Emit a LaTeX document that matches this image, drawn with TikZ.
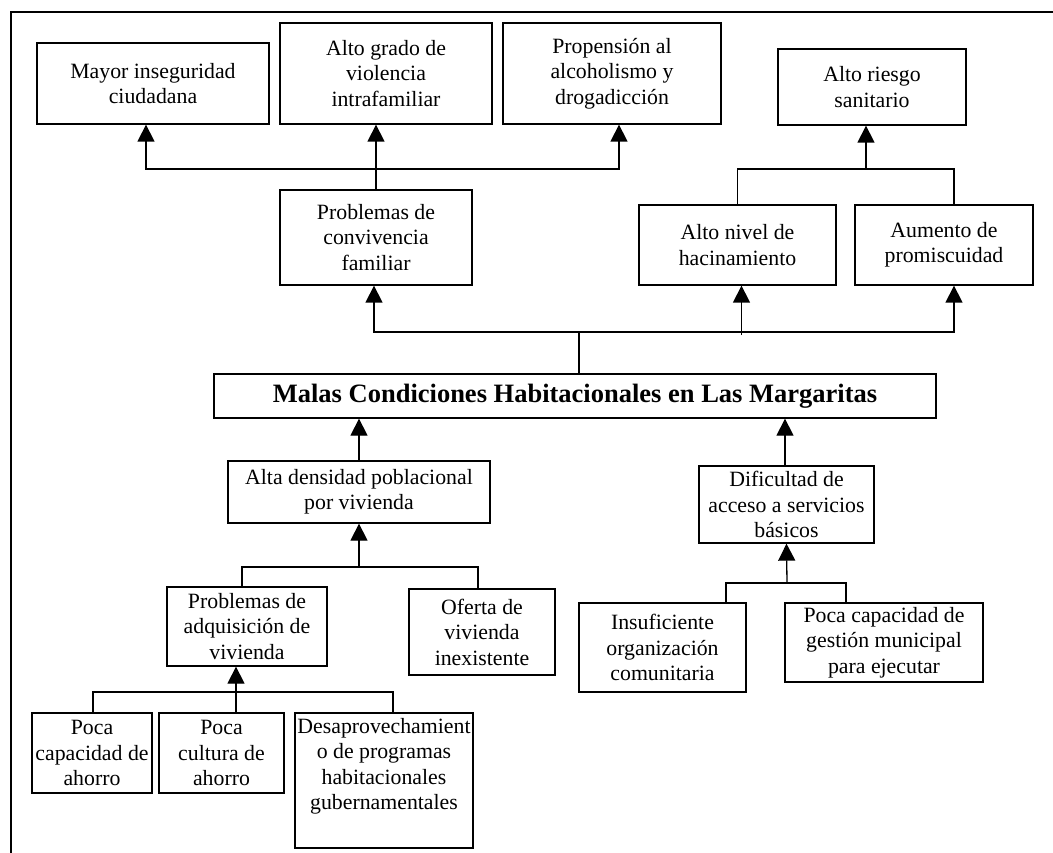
\documentclass[tikz,border=0pt]{standalone}
\usepackage{fontspec}
\setmainfont{Liberation Serif}
\usetikzlibrary{arrows.meta,calc}
\definecolor{ink}{HTML}{000000}
\tikzset{
  every node/.style={font=\fontsize{21.8}{25.5}\selectfont, text=ink},
  caja/.style={draw=ink, line width=1.3pt, fill=white, align=center, inner sep=0pt},
  titulo/.style={caja, font=\fontsize{26.5}{30}\selectfont\bfseries},
  flecha/.style={-{Triangle[length=17pt,width=17pt]}, line width=1.3pt, draw=ink},
  linea/.style={line width=1.3pt, draw=ink},
  marco/.style={line width=2.2pt, draw=ink},
}

\begin{document}
\begin{tikzpicture}[x=1pt,y=-1pt]
\useasboundingbox (0,0) rectangle (1053,853);
\draw[marco] (11,853) -- (11,12) -- (1053,12);
% efectos
\node[caja, minimum width=232pt, minimum height=81pt] (mayor) at (153,83.5) {Mayor inseguridad\\ciudadana};
\node[caja, minimum width=212pt, minimum height=101pt] (violencia) at (386,73.5) {Alto grado de\\violencia\\intrafamiliar};
\node[caja, minimum width=218pt, minimum height=101pt] (alcohol) at (612,73.5) {Propensión al\\alcoholismo y\\drogadicción};
\node[caja, minimum width=188pt, minimum height=76pt] (riesgo) at (872,87) {Alto riesgo\\sanitario};
\node[caja, minimum width=192pt, minimum height=95pt] (convivencia) at (376,237.5) {Problemas de\\convivencia\\familiar};
\node[caja, minimum width=197pt, minimum height=80pt] (hacinamiento) at (737.5,245) {Alto nivel de\\hacinamiento};
\node[caja, minimum width=178pt, minimum height=80pt] (promiscuidad) at (944,245) {Aumento de\\promiscuidad};
% problema central
\node[titulo, minimum width=722pt, minimum height=44pt] (problema) at (575,396) {Malas Condiciones Habitacionales en Las Margaritas};
% causas
\node[caja, minimum width=262pt, minimum height=62pt] (densidad) at (359,492) {Alta densidad poblacional\\por vivienda};
\node[caja, minimum width=175pt, minimum height=77pt] (servicios) at (786.5,504.5) {Dificultad de\\acceso a servicios\\básicos};
\node[caja, minimum width=160pt, minimum height=79pt] (adquisicion) at (247,626.5) {Problemas de\\adquisición de\\vivienda};
\node[caja, minimum width=146pt, minimum height=86pt] (oferta) at (482,632) {Oferta de\\vivienda\\inexistente};
\node[caja, minimum width=167pt, minimum height=89pt] (organizacion) at (662.5,647.5) {Insuficiente\\organización\\comunitaria};
\node[caja, minimum width=198pt, minimum height=79pt] (gestion) at (884,642.5) {Poca capacidad de\\gestión municipal\\para ejecutar};
\node[caja, minimum width=120pt, minimum height=80pt] (capahorro) at (92,753) {Poca\\capacidad de\\ahorro};
\node[caja, minimum width=125pt, minimum height=80pt] (culahorro) at (221.5,753) {Poca\\cultura de\\ahorro};
\node[caja, minimum width=178pt, minimum height=135pt] (programas) at (384,780.5) {Desaprovechamient\\o de programas\\habitacionales\\gubernamentales\\[8pt]};
% conectores de efectos
\coordinate (j1) at (376,169);
\draw[flecha] (convivencia.north) -- (convivencia.north |- violencia.south);
\draw[flecha] (j1) -| ([xshift=-7pt]mayor.south);
\draw[flecha] (j1) -| ([xshift=7pt]alcohol.south);
\coordinate (j2) at (866,169);
\draw[linea] (hacinamiento.north) |- (j2) -| ([xshift=10pt]promiscuidad.north);
\draw[flecha] (j2) -- ([xshift=-6pt]riesgo.south);
\coordinate (j3) at (579,332);
\draw[linea] ([xshift=4pt]problema.north) -- (j3);
\draw[flecha] (j3) -| ([xshift=-2pt]convivencia.south);
\draw[flecha] (j3) -| ([xshift=10pt]promiscuidad.south);
\draw[flecha] ([xshift=4pt,yshift=-3pt]hacinamiento.south |- j3) -- ([xshift=4pt]hacinamiento.south);
% conectores de causas
\draw[flecha] (densidad.north) -- (densidad.north |- problema.south);
\draw[flecha] ([xshift=-1.5pt]servicios.north) -- ([xshift=-1.5pt]servicios.north |- problema.south);
\coordinate (j4) at (359,567);
\draw[linea] ([xshift=-5pt]adquisicion.north) |- (j4) -| ([xshift=-4pt]oferta.north);
\draw[flecha] (j4) -- (densidad.south);
\coordinate (j5) at (236,692);
\draw[linea] ([xshift=1pt]capahorro.north) |- (j5) -| ([xshift=9pt]programas.north);
\draw[flecha] ([xshift=14.5pt]culahorro.north) -- ([xshift=-11pt]adquisicion.south);
\coordinate (j6) at (787,583);
\draw[linea] ([xshift=63.5pt]organizacion.north) |- (j6) -| ([xshift=-38pt]gestion.north);
\draw[flecha] (j6) -- (servicios.south);
\end{tikzpicture}
\end{document}
